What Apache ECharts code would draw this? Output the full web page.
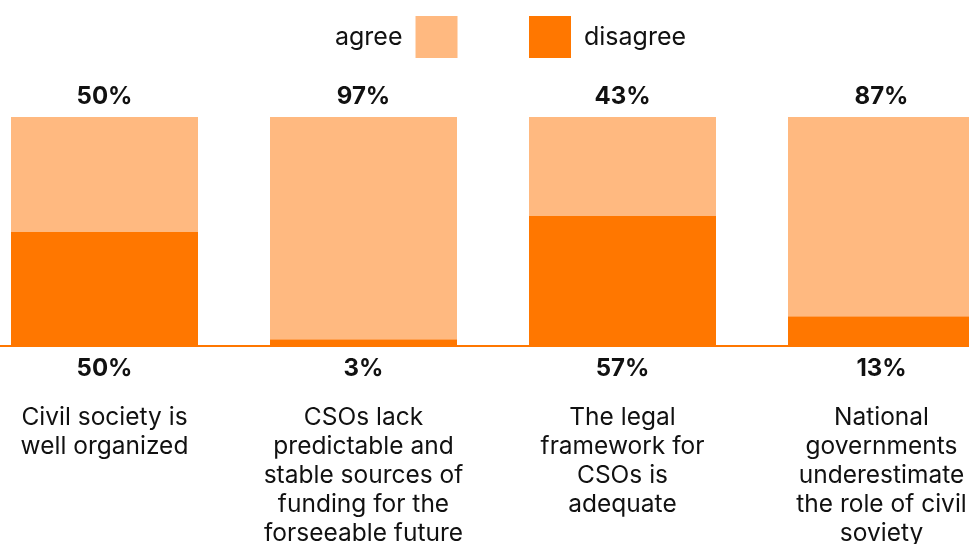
<!DOCTYPE html>
<html>
<head>
<meta charset="utf-8">
<script src="https://cdn.jsdelivr.net/npm/echarts@6/dist/echarts.min.js"></script>
<style>
html,body{margin:0;padding:0;background:#fff;}
#chart{width:969px;height:544px;}
</style>
</head>
<body>
<div id="chart"></div>
<script>
const categories = [
  "Civil society is\nwell organized",
  "CSOs lack\npredictable and\nstable sources of\nfunding for the\nforseeable future",
  "The legal\nframework for\nCSOs is\nadequate",
  "National\ngovernments\nunderestimate\nthe role of civil\nsoviety"
];
const agreeValues = [50, 97, 43, 87];
const disagreeValues = [50, 3, 57, 13];
const seriesNames = ["agree", "disagree"];

const AGREE = "#FFB980";
const DISAGREE = "#FF7700";
const FONT = "Inter";

const chart = echarts.init(document.getElementById('chart'));
chart.setOption({
  animation: false,
  legend: [
    {
      data: [seriesNames[0]],
      left: 335, top: 16, padding: 0,
      align: 'right',
      itemWidth: 42, itemHeight: 42, itemGap: 0,
      icon: 'rect',
      textStyle: {fontFamily: FONT, fontSize: 25, color: '#111', padding: [8, 8, 0, 0]},
      selectedMode: false
    },
    {
      data: [seriesNames[1]],
      left: 529, top: 16, padding: 0,
      align: 'left',
      itemWidth: 42, itemHeight: 42, itemGap: 0,
      icon: 'rect',
      textStyle: {fontFamily: FONT, fontSize: 25, color: '#111', padding: [8, 0, 0, 8]},
      selectedMode: false
    }
  ],
  grid: {left: -25, width: 1036, top: 117, bottom: 198, outerBoundsMode: 'none', containLabel: false},
  xAxis: {
    type: 'category',
    data: categories,
    axisLine: {lineStyle: {color: DISAGREE, width: 2}},
    axisTick: {show: false},
    axisLabel: {
      interval: 0,
      margin: 57,
      fontFamily: FONT,
      fontSize: 24.5,
      lineHeight: 29,
      color: '#111',
      align: 'center',
      verticalAlign: 'top'
    }
  },
  yAxis: {type: 'value', min: 0, max: 100, show: false},
  series: [
    {
      name: seriesNames[1],
      type: 'bar',
      stack: 's',
      data: disagreeValues,
      barWidth: 187,
      itemStyle: {color: DISAGREE},
      label: {
        show: true, position: 'bottom', distance: 11,
        formatter: '{c}%',
        fontFamily: FONT, fontWeight: 'bold', fontSize: 24, color: '#111'
      }
    },
    {
      name: seriesNames[0],
      type: 'bar',
      stack: 's',
      data: agreeValues,
      barWidth: 187,
      itemStyle: {color: AGREE},
      label: {
        show: true, position: 'top', distance: 8,
        formatter: '{c}%',
        fontFamily: FONT, fontWeight: 'bold', fontSize: 24, color: '#111'
      }
    }
  ]
});
</script>
</body>
</html>
